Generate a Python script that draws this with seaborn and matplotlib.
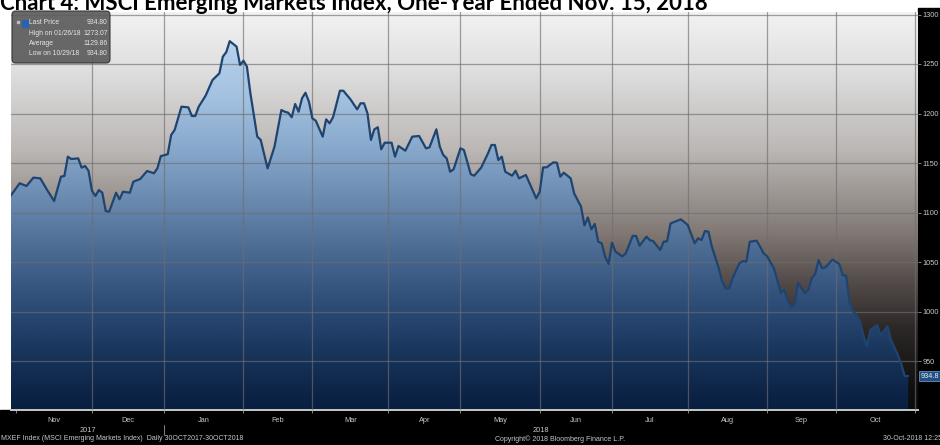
import numpy as np
import pandas as pd
import matplotlib
matplotlib.use("Agg")
import matplotlib.pyplot as plt
import matplotlib.transforms as mtransforms
import seaborn as sns
from matplotlib.colors import LinearSegmentedColormap
from matplotlib.patches import Rectangle, FancyBboxPatch, PathPatch
from matplotlib.path import Path

# ---------------- data ----------------
title = "Chart 4: MSCI Emerging Markets Index, One-Year Ended Nov. 15, 2018"

# trading-day offset from 30-Oct-2017 and index level
day = [0, 3, 5, 7, 9, 11, 13, 15, 16, 17, 18, 20, 21, 22, 23, 24, 25, 26, 27, 28,
       29, 31, 32, 33, 35, 36, 38, 40, 42, 43, 44, 46, 47, 48, 49, 50, 52, 53, 54, 55,
       57, 59, 61, 62, 63, 64, 66, 67, 68, 69, 70, 72, 73, 75, 77, 79, 80, 81, 82, 83,
       84, 85, 86, 87, 88, 89, 91, 92, 93, 94, 96, 97, 98, 99, 101, 102, 103, 104, 105, 106,
       107, 108, 109, 111, 112, 113, 115, 117, 119, 121, 122, 124, 125, 126, 127, 128, 129, 131, 132, 134,
       135, 137, 139, 140, 141, 142, 143, 144, 146, 147, 148, 150, 153, 154, 155, 156, 158, 159, 160, 161,
       163, 164, 166, 167, 168, 169, 170, 171, 172, 173, 174, 175, 176, 178, 179, 181, 182, 183, 185, 186,
       187, 189, 190, 191, 192, 194, 195, 197, 199, 200, 201, 202, 203, 204, 206, 207, 208, 209, 210, 212,
       213, 214, 215, 217, 218, 219, 220, 222, 223, 224, 225, 226, 227, 228, 229, 231, 232, 233, 234, 235,
       236, 237, 239, 241, 242, 243, 244, 245, 246, 247, 248, 249, 250, 252, 253, 255, 256, 258, 259, 260,
       261]
price = [1115.0, 1129.5, 1126.8, 1135.2, 1134.5, 1122.7, 1111.6, 1136.2, 1136.9, 1156.4,
         1154.0, 1154.7, 1145.3, 1147.0, 1142.2, 1122.0, 1116.7, 1122.7, 1120.0, 1101.5,
         1100.8, 1120.0, 1113.3, 1121.0, 1120.0, 1131.1, 1133.8, 1141.9, 1139.6, 1144.6,
         1157.0, 1158.8, 1178.3, 1183.3, 1195.1, 1206.9, 1206.2, 1197.5, 1197.5, 1206.9,
         1218.0, 1233.8, 1240.6, 1257.4, 1262.0, 1273.07, 1267.5, 1249.0, 1253.3, 1247.3,
         1220.4, 1176.6, 1173.3, 1144.6, 1166.5, 1203.5, 1201.8, 1200.8, 1196.2, 1209.6,
         1201.8, 1215.4, 1221.0, 1211.9, 1195.1, 1192.7, 1176.6, 1194.1, 1190.1, 1196.2,
         1223.0, 1223.0, 1218.7, 1214.6, 1204.2, 1210.3, 1210.3, 1200.2, 1173.3, 1184.0,
         1186.1, 1163.8, 1170.5, 1170.5, 1156.4, 1167.2, 1162.4, 1176.6, 1177.3, 1164.8,
         1165.8, 1184.0, 1166.5, 1158.1, 1154.7, 1141.2, 1143.6, 1164.8, 1163.1, 1138.6,
         1137.2, 1145.3, 1159.8, 1168.2, 1168.2, 1153.0, 1156.4, 1141.2, 1137.2, 1142.2,
         1134.5, 1137.9, 1114.3, 1121.0, 1145.6, 1145.6, 1150.7, 1150.3, 1136.2, 1140.2,
         1134.5, 1119.4, 1106.0, 1087.0, 1095.0, 1083.0, 1088.5, 1070.5, 1068.9, 1055.4,
         1048.0, 1069.5, 1060.4, 1055.7, 1058.8, 1076.3, 1076.3, 1066.4, 1075.6, 1072.0,
         1071.0, 1062.1, 1070.5, 1071.0, 1089.0, 1091.7, 1093.1, 1087.4, 1068.9, 1074.0,
         1072.2, 1081.3, 1080.6, 1065.5, 1043.6, 1030.1, 1023.4, 1023.4, 1033.5, 1048.7,
         1051.0, 1050.3, 1070.5, 1071.5, 1065.5, 1058.8, 1056.0, 1043.6, 1031.8, 1018.9,
         1021.7, 1011.6, 1004.2, 1006.6, 1029.1, 1018.3, 1021.7, 1033.5, 1037.9, 1052.0,
         1043.6, 1044.6, 1052.4, 1048.0, 1036.9, 1035.9, 1009.0, 1000.0, 996.5, 990.0,
         976.0, 965.0, 981.3, 986.4, 976.0, 985.0, 971.2, 956.1, 947.0, 934.8,
         934.8]

y_ticks = [950, 1000, 1050, 1100, 1150, 1200, 1250, 1300]
month_labels = ["Nov", "Dec", "Jan", "Feb", "Mar", "Apr", "May", "Jun", "Jul", "Aug", "Sep", "Oct"]
year_labels = ["2017", "2018"]
legend_names = ["Last Price", "High on 01/26/18", "Average", "Low on 10/29/18"]
legend_values = ["934.80", "1273.07", "1129.86", "934.80"]
last_value = 934.8
footer_left = "MXEF Index (MSCI Emerging Markets Index)  Daily 30OCT2017-30OCT2018"
footer_mid = "Copyright\u00a9 2018 Bloomberg Finance L.P."
footer_right = "30-Oct-2018 12:25:"

# ---------------- setup ----------------
sns.set_theme(style="white")
SMALL = ["Liberation Sans Narrow", "Liberation Sans", "DejaVu Sans"]
plt.rcParams["font.family"] = SMALL

bdays = pd.bdate_range("2017-10-30", "2018-11-05")
df = pd.DataFrame({"day": day, "price": price})
df["date"] = bdays[df["day"]]

# month starts (trading-day positions)
bd = pd.Series(np.arange(len(bdays)), index=bdays)
mstarts = bd.groupby([bdays.year, bdays.month]).first().values
mstarts = [m for m in mstarts if m > 0][:13]          # Nov-17 ... Nov-18
mid = [(a + b) / 2 for a, b in zip(mstarts[:-1], mstarts[1:])]
jan_pos = mstarts[2]

W, H = 940, 445
fig = plt.figure(figsize=(W / 100, H / 100), dpi=100)
fig.patch.set_facecolor("white")


def fx(px):
    return px / W


def fy(py):
    return 1 - py / H


# black bands (bottom, right) drawn beneath the axes
fig.patches.append(Rectangle((0, 0), 1, fy(410), transform=fig.transFigure,
                             color="black", zorder=-5))
fig.patches.append(Rectangle((fx(918), 0), 1 - fx(918), fy(8), transform=fig.transFigure,
                             color="black", zorder=-5))

ax = fig.add_axes([fx(11), fy(410), fx(918) - fx(11), fy(12) - fy(410)])
ax.patch.set_alpha(0)
X0, DX = 9.3, 3.444
xmin, xmax = (11 - X0) / DX, (918 - X0) / DX
PXV = 0.99
ymax = 1300 + (14.5 - 12) / PXV
ymin = 1300 - (410 - 14.5) / PXV

# background gradient
bg_cmap = LinearSegmentedColormap.from_list("bg", [
    (0.0, "#f2f2f2"), (0.15, "#dedede"), (0.35, "#bab6b4"), (0.55, "#837a76"),
    (0.68, "#534b49"), (0.80, "#2b2726"), (0.92, "#151313"), (1.0, "#0b0b0b")])
grad = np.linspace(0, 1, 400).reshape(-1, 1)
ax.imshow(grad, extent=[xmin, xmax, ymin, ymax], aspect="auto", cmap=bg_cmap,
          origin="upper", zorder=0, interpolation="bilinear")

# blue area fill with vertical gradient
fill_cmap = LinearSegmentedColormap.from_list("fill", [
    (0.0, "#c2dbf2"), (0.07, "#b8d3ee"), (0.22, "#a2c0df"), (0.34, "#88a9cc"),
    (0.47, "#6a8ab0"), (0.59, "#4d6d95"), (0.72, "#30507a"), (0.84, "#1b3860"),
    (0.97, "#0b2245"), (1.0, "#08203f")])
verts = [(df["day"].iloc[0], ymin)] + list(zip(df["day"], df["price"])) + [(df["day"].iloc[-1], ymin)]
poly = PathPatch(Path(verts), transform=ax.transData, facecolor="none", edgecolor="none")
ax.add_patch(poly)
im = ax.imshow(grad, extent=[xmin, xmax, ymin, ymax], aspect="auto", cmap=fill_cmap,
               origin="upper", zorder=1, interpolation="bilinear")
im.set_clip_path(poly)

# grid
gcol = "#6e6e6e"
for v in y_ticks:
    ax.axhline(v, color=gcol, alpha=0.65, lw=0.9, zorder=3)
for m in mstarts[1:]:
    ax.axvline(m, color=gcol, alpha=0.65, lw=0.9, zorder=3)

# line
sns.lineplot(data=df, x="day", y="price", ax=ax, color="#1f4470", lw=1.6,
             zorder=4, legend=False)

ax.set_xlim(xmin, xmax)
ax.set_ylim(ymin, ymax)
ax.set_xlabel("")
ax.set_ylabel("")
for s in ["top", "left", "right"]:
    ax.spines[s].set_visible(False)
ax.spines["bottom"].set_color("#c8c8c8")
ax.spines["bottom"].set_linewidth(1.4)

# right axis
ax.yaxis.tick_right()
ax.set_yticks(y_ticks)
ax.set_yticklabels([str(v) for v in y_ticks])
ax.tick_params(axis="y", right=True, left=False, labelright=True, labelleft=False,
               length=2, width=0.6, color="#9a9a9a",
               labelsize=5.3, labelcolor="#c8c8c8", pad=1)

# x axis: ticks at month starts, labels centred in each month
ax.set_xticks(mstarts)
ax.set_xticklabels([])
ax.set_xticks(mid, minor=True)
ax.set_xticklabels(month_labels, minor=True)
ax.tick_params(axis="x", which="major", bottom=True, length=2, width=0.6,
               color="#9a9a9a", direction="out")
ax.tick_params(axis="x", which="minor", bottom=False, length=0, labelsize=5.3,
               labelcolor="#c8c8c8", pad=5)

# year labels and separator
bt = mtransforms.blended_transform_factory(ax.transData, fig.transFigure)
ax.text((xmin + jan_pos) / 2, fy(430), year_labels[0], transform=bt, ha="center",
        va="center", fontsize=5.3, color="#c8c8c8", clip_on=False)
ax.text((jan_pos + xmax) / 2, fy(430), year_labels[1], transform=bt, ha="center",
        va="center", fontsize=5.3, color="#c8c8c8", clip_on=False)
ax.plot([jan_pos, jan_pos], [fy(425), fy(435)], transform=bt, color="#9a9a9a",
        lw=0.6, clip_on=False)

# last price box on right axis
rt = mtransforms.blended_transform_factory(ax.transAxes, ax.transData)
ax.text(1.003, last_value, "934.8", transform=rt, ha="left", va="center",
        fontsize=5.3, color="#e8eef6", clip_on=False, zorder=6,
        bbox=dict(boxstyle="square,pad=0.2", fc="#214f82", ec="#7aa3d0", lw=0.5))

# legend box
box = FancyBboxPatch((fx(12), fy(63)), fx(110) - fx(12), fy(11) - fy(63),
                     boxstyle="round,pad=0,rounding_size=0.004", mutation_aspect=W / H,
                     transform=fig.transFigure, fc="#5c5c5c", ec="#333333", lw=0.8,
                     alpha=0.92, zorder=10)
fig.patches.append(box)
fig.patches.append(Rectangle((fx(16.5), fy(23)), fx(2) - fx(0), fy(0) - fy(2),
                             transform=fig.transFigure, color="#bdbdbd", zorder=11))
fig.patches.append(Rectangle((fx(21.5), fy(26.5)), fx(6) - fx(0), fy(0) - fy(7),
                             transform=fig.transFigure, color="#2a62b0", zorder=11))
rows_y = [22.7, 33.3, 43.3, 53.3]
for name, val, ry in zip(legend_names, legend_values, rows_y):
    fig.text(fx(29), fy(ry), name, fontsize=4.9, color="#e6e6e6", va="center",
             ha="left", zorder=12)
    fig.text(fx(107.5), fy(ry), val, fontsize=4.9, color="#e6e6e6", va="center",
             ha="right", zorder=12)

# footer
fig.text(fx(1), fy(439), footer_left, fontsize=5.0, color="#c8c8c8", va="center", ha="left")
fig.text(fx(495), fy(439), footer_mid, fontsize=5.0, color="#c8c8c8", va="center", ha="left")
fig.text(fx(883), fy(439), footer_right, fontsize=5.0, color="#c8c8c8", va="center", ha="left")

# title (top clipped by the image edge as in the source)
fig.text(fx(0), fy(10.5), title, fontsize=16, fontweight="bold",
         family=["Lato", "DejaVu Sans"], color="black", va="baseline", ha="left", zorder=20)

fig.savefig("out.png", dpi=100)
